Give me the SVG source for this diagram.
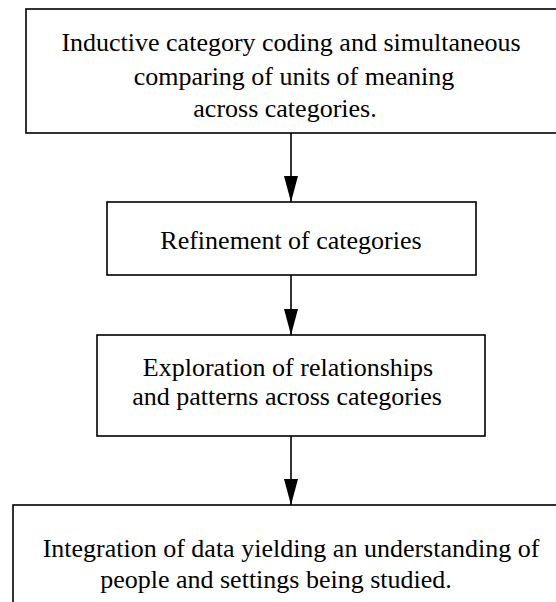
<svg xmlns="http://www.w3.org/2000/svg" width="556" height="602" viewBox="0 0 556 602">
<style>
.box{fill:none;stroke:#000;stroke-width:1.6}
.t{font-family:"Liberation Serif","Times New Roman",serif;font-size:26px;fill:#000;text-anchor:middle}
.c{stroke:#000;stroke-width:1.6;fill:none}
</style>
<defs>
<marker id="ah" viewBox="0 0 26 14" refX="26" refY="7" markerWidth="26" markerHeight="14" markerUnits="userSpaceOnUse" orient="auto">
<path d="M0,0 L26,7 L0,14 Z" fill="#000"/>
</marker>
</defs>
<rect width="556" height="602" fill="#fff"/>
<g id="n1">
<rect class="box" x="26" y="9" width="560" height="124"/>
<text class="t" x="291" y="51">Inductive category coding and simultaneous</text>
<text class="t" x="294" y="85">comparing of units of meaning</text>
<text class="t" x="285" y="117">across categories.</text>
</g>
<g id="n2">
<rect class="box" x="107" y="202" width="369" height="73"/>
<text class="t" x="291" y="249">Refinement of categories</text>
</g>
<g id="n3">
<rect class="box" x="97" y="335" width="388" height="101"/>
<text class="t" x="288" y="376">Exploration of relationships</text>
<text class="t" x="287" y="405">and patterns across categories</text>
</g>
<g id="n4">
<rect class="box" x="13" y="505" width="560" height="120"/>
<text class="t" x="291" y="557">Integration of data yielding an understanding of</text>
<text class="t" x="276" y="588">people and settings being studied.</text>
</g>
<g id="connectors">
<line class="c" x1="291" y1="133" x2="291" y2="202" marker-end="url(#ah)"/>
<line class="c" x1="291" y1="275" x2="291" y2="335" marker-end="url(#ah)"/>
<line class="c" x1="291" y1="436" x2="291" y2="505" marker-end="url(#ah)"/>
</g>
</svg>
